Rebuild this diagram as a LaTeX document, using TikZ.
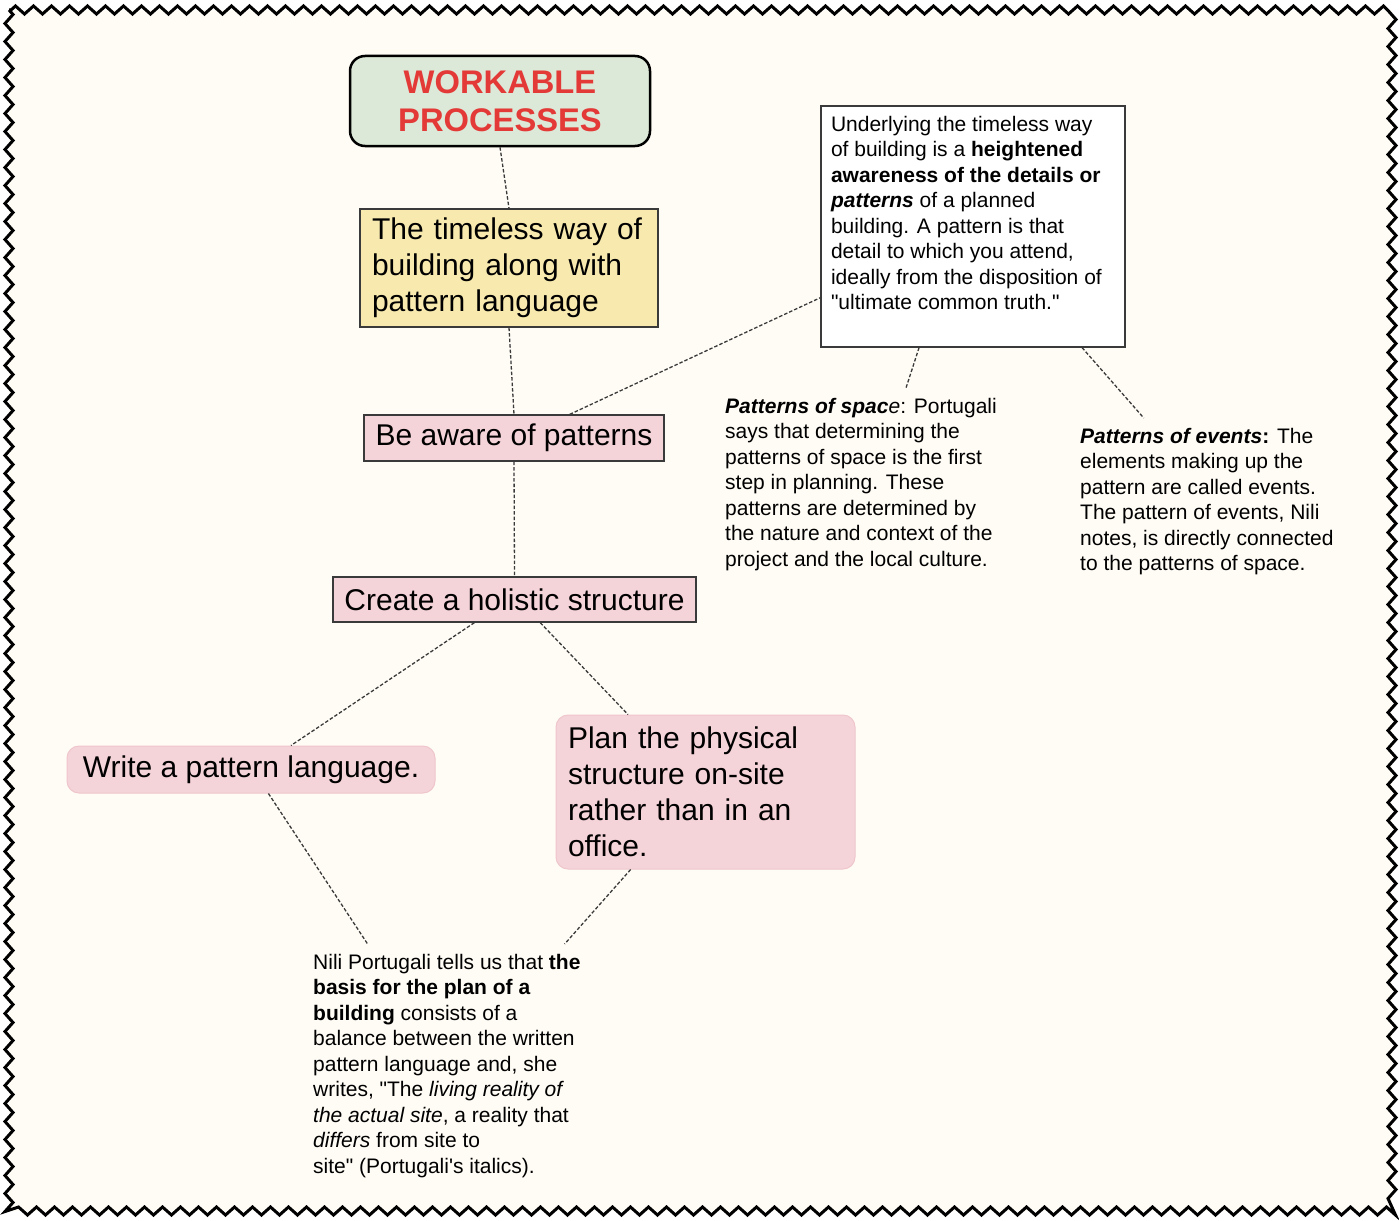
\documentclass[tikz,border=0pt]{standalone}
\usepackage{fontspec}
\setmainfont{Liberation Sans}[Ligatures=TeXOff]
\usetikzlibrary{decorations.pathmorphing}
\definecolor{paperCream}{HTML}{FFFCF5}
\definecolor{titleGreen}{HTML}{DCE9D8}
\definecolor{titleRed}{HTML}{E33A38}
\definecolor{wayYellow}{HTML}{F8EAAF}
\definecolor{stepPink}{HTML}{F5D4D9}
\definecolor{pinkEdge}{HTML}{EEC6CC}
\definecolor{edgeGray}{HTML}{3A3A3A}
\newcommand{\titlefont}{\fontsize{32.7}{38}\selectfont\bfseries}
\newcommand{\boxfont}{\fontsize{30}{36}\selectfont}
\newcommand{\notefont}{\fontsize{21}{25.5}\selectfont}

\begin{document}
\begin{tikzpicture}[x=1pt, y=-1pt,
    link/.style={draw=edgeGray, line width=1.3pt, dash pattern=on 3.5pt off 2pt},
    stepbox/.style={draw=edgeGray, line width=1.3pt, fill=stepPink, font=\boxfont},
    softbox/.style={draw=pinkEdge, line width=1pt, fill=stepPink, rounded corners=12pt, font=\boxfont},
    notetext/.style={anchor=north west, inner sep=10pt, align=left, font=\notefont}]
  \useasboundingbox (0,0) rectangle (1399,1220);
  \fill[white] (0,0) rectangle (1399,1220);
  \fill[paperCream] (9,10) rectangle (1392,1211);
  \draw[line width=3pt, decorate, decoration={zigzag, segment length=18pt, amplitude=4pt}]
    (9,10) rectangle (1392,1211);

  % boxes
  \node[draw, line width=2.5pt, rounded corners=15pt, fill=titleGreen, text=titleRed,
    font=\titlefont, align=center, minimum width=300pt, minimum height=90pt] (wp) at (500,101)
    {WORKABLE\\PROCESSES};
  \node[draw=edgeGray, line width=1.3pt, fill=wayYellow, font=\boxfont, align=left,
    text width=274pt, minimum width=298pt, minimum height=118pt] (way) at (509,268)
    {The timeless way of\\building along with\\pattern language};
  \node[stepbox, minimum width=300pt, minimum height=46pt] (aware) at (514,438) {Be aware of patterns};
  \node[stepbox, minimum width=363pt, minimum height=45pt] (holistic) at (514.5,599.5) {Create a holistic structure};
  \node[softbox, minimum width=368pt, minimum height=47pt] (write) at (251,769.5) {Write a pattern language.};
  \node[softbox, align=left, text width=275pt, minimum width=299pt, minimum height=154pt] (plan) at (705.5,792)
    {Plan the physical\\structure on-site\\rather than in an\\office.};

  % notes
  \node[draw=edgeGray, line width=1.3pt, fill=white, inner sep=10pt, font=\notefont] (aware note) at (973,226.5)
    {\parbox[c][221pt][t]{284pt}{\raggedright
      Underlying the timeless way\\
      of building is a \textbf{heightened}\\
      \textbf{awareness of the details or}\\
      \textbf{\textit{patterns}} of a planned\\
      building. A pattern is that\\
      detail to which you attend,\\
      ideally from the disposition of\\
      "ultimate common truth."}};
  \node[notetext] (space) at (715,388)
    {\textbf{\textit{Patterns of spac}}\textit{e}: Portugali\\
     says that determining the\\
     patterns of space is the first\\
     step in planning. These\\
     patterns are determined by\\
     the nature and context of the\\
     project and the local culture.};
  \node[notetext] (events) at (1070,418)
    {\textbf{\textit{Patterns of events}:} The\\
     elements making up the\\
     pattern are called events.\\
     The pattern of events, Nili\\
     notes, is directly connected\\
     to the patterns of space.};
  \node[notetext] (nili) at (303,944)
    {Nili Portugali tells us that \textbf{the}\\
     \textbf{basis for the plan of a}\\
     \textbf{building} consists of a\\
     balance between the written\\
     pattern language and, she\\
     writes, "The \textit{living reality of}\\
     \textit{the actual site}, a reality that\\
     \textit{differs} from site to\\
     site" (Portugali's italics).};

  % links
  \draw[link] (wp.south) -- (way.north);
  \draw[link] (way.south) -- (aware.north);
  \draw[link] (aware.23) -- (aware note.205);
  \draw[link] (aware note.246) -- (space.65);
  \draw[link] (aware note.312) -- (events.127);
  \draw[link] (aware.south) -- (holistic.north);
  \draw[link] (holistic.210) -- (write.31);
  \draw[link] (holistic.318) -- (plan.135);
  \draw[link] (write.306) -- (nili.123);
  \draw[link] (plan.226) -- (nili.46);
\end{tikzpicture}
\end{document}
